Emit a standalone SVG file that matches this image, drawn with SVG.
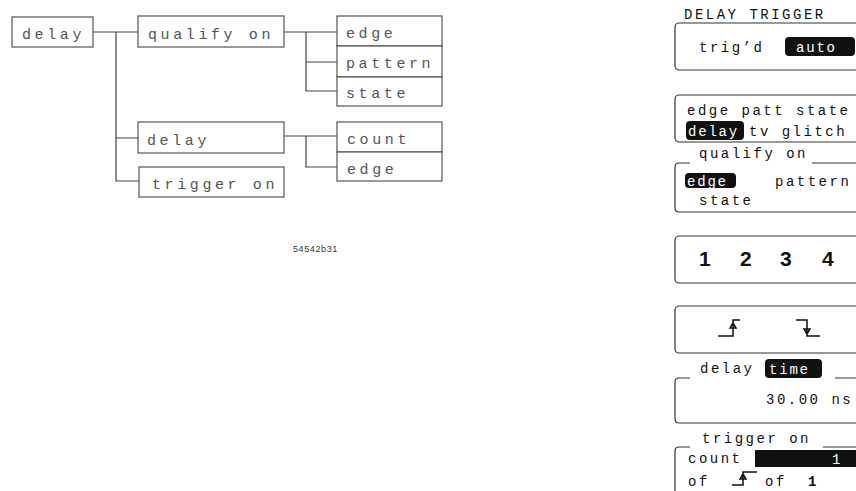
<svg xmlns="http://www.w3.org/2000/svg" width="856" height="491" viewBox="0 0 856 491">
<style>
.bx{fill:#fff;stroke:#555;stroke-width:1.2}
.ln{fill:none;stroke:#444;stroke-width:1.2}
.tt{font-family:"Liberation Mono","DejaVu Sans Mono",monospace;font-size:15px;letter-spacing:3.6px;fill:#555}
.pt{font-family:"Liberation Mono","DejaVu Sans Mono",monospace;font-size:14px;letter-spacing:2.5px;fill:#111}
.pw{font-family:"Liberation Mono","DejaVu Sans Mono",monospace;font-size:14px;letter-spacing:1.8px;fill:#fff}
.pb{fill:none;stroke:#333;stroke-width:1.2}
.hl{fill:#111}
.num{font-family:"Liberation Sans",Arial,sans-serif;font-size:21px;font-weight:bold;fill:#111}
.sym{fill:none;stroke:#111;stroke-width:1.5}
</style>
<g id="connectors">
<path class="ln" d="M93 32H138M116 32V181H139M116 138H138"/>
<path class="ln" d="M284 32H337M306 32V91H337M306 62H337"/>
<path class="ln" d="M284 136H337M306 136V167H337"/>
</g>
<g id="n-delay"><rect class="bx" x="12" y="17" width="81" height="30"/><text class="tt" x="22" y="39">delay</text></g>
<g id="n-qualify"><rect class="bx" x="138" y="16" width="146" height="31"/><text class="tt" x="148" y="39">qualify on</text></g>
<g id="n-delay2"><rect class="bx" x="138" y="122" width="146" height="31"/><text class="tt" x="147" y="145">delay</text></g>
<g id="n-trigger"><rect class="bx" x="139" y="167" width="145" height="30"/><text class="tt" x="152" y="189">trigger on</text></g>
<g id="n-edge"><rect class="bx" x="337" y="16" width="105" height="30"/><text class="tt" x="346" y="38">edge</text></g>
<g id="n-pattern"><rect class="bx" x="337" y="46" width="105" height="31"/><text class="tt" x="346" y="68">pattern</text></g>
<g id="n-state"><rect class="bx" x="337" y="77" width="105" height="29"/><text class="tt" x="346" y="98">state</text></g>
<g id="n-count"><rect class="bx" x="337" y="122" width="105" height="30"/><text class="tt" x="347" y="144">count</text></g>
<g id="n-edge2"><rect class="bx" x="337" y="152" width="105" height="29"/><text class="tt" x="347" y="174">edge</text></g>
<text x="293" y="252" font-family="Liberation Sans,Arial,sans-serif" font-size="9" letter-spacing="0.6" fill="#333">54542b31</text>
<g id="panel">
<text class="pt" x="684" y="19">DELAY TRIGGER</text>
<g id="p-trig"><rect class="pb" x="675" y="23" width="200" height="47" rx="4"/><text class="pt" x="699" y="52">trig’d</text><rect class="hl" x="785" y="37" width="70" height="19" rx="4"/><text class="pw" x="796" y="52">auto</text></g>
<g id="p-mode"><rect class="pb" x="675" y="95" width="200" height="47" rx="4"/><text class="pt" x="687" y="115">edge patt state</text><rect class="hl" x="686" y="121" width="58" height="19" rx="4"/><text class="pw" x="688" y="136">delay</text><text class="pt" x="749" y="136">tv glitch</text></g>
<g id="p-qualify"><path class="pb" d="M690 163H679Q675 163 675 167V208Q675 212 679 212H875M812 163H875"/><text class="pt" x="699" y="158">qualify on</text><rect class="hl" x="685" y="173" width="51" height="15" rx="4"/><text class="pw" x="687" y="186">edge</text><text class="pt" x="775" y="186">pattern</text><text class="pt" x="699" y="205">state</text></g>
<g id="p-chan"><rect class="pb" x="675" y="236" width="200" height="47" rx="4"/><text class="num" x="699" y="266">1</text><text class="num" x="740" y="266">2</text><text class="num" x="780" y="266">3</text><text class="num" x="822" y="266">4</text></g>
<g id="p-slope"><rect class="pb" x="675" y="306" width="200" height="47" rx="4"/><path class="sym" d="M718 336H733V320H740M733 323l-3 5h6z"/><path class="sym" d="M796 320H807V336H820M807 334l-3 -5h6z"/></g>
<g id="p-delay"><path class="pb" d="M690 378H679Q675 378 675 382V419Q675 423 679 423H875M835 378H875"/><text class="pt" x="700" y="373">delay</text><rect class="hl" x="765" y="359" width="57" height="19" rx="4"/><text class="pw" x="769" y="374">time</text><text class="pt" x="766" y="404">30.00 ns</text></g>
<g id="p-trigger"><path class="pb" d="M690 447H679Q675 447 675 451V495M823 447H875"/><text class="pt" x="702" y="443">trigger on</text><text class="pt" x="688" y="463">count</text><rect class="hl" x="755" y="450" width="110" height="17"/><text class="pw" x="832" y="464">1</text><text class="pt" x="688" y="486">of</text><path class="sym" d="M732 485H743V472H757M743 474l-3 5h6z"/><text class="pt" x="765" y="486">of</text><text class="pt" x="808" y="486" font-weight="bold">1</text></g>
</g>
</svg>
